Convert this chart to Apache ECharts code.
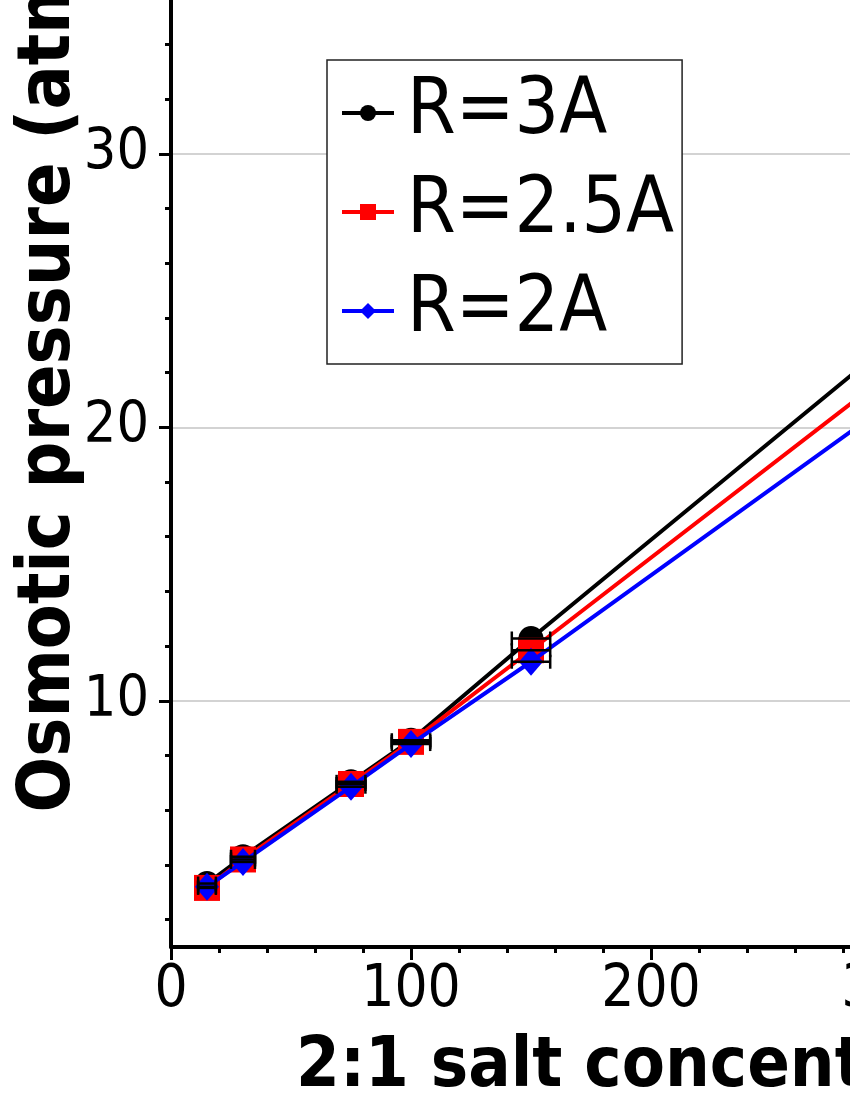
<!DOCTYPE html>
<html>
<head>
<meta charset="utf-8">
<script src="https://cdn.jsdelivr.net/npm/echarts@6/dist/echarts.min.js"></script>
<style>
  html, body { margin: 0; padding: 0; background: #fff; overflow: hidden; width: 850px; height: 1100px; }
  #main { position: absolute; left: 0; top: -300px; width: 1500px; height: 1460px; }
</style>
</head>
<body>
<div id="main"></div>
<script>
// salt concentration (mM)
var conc = [15, 30, 75, 100, 150, 300];
// osmotic pressure (atm) for each ion radius
var pR3  = [3.32, 4.30, 7.04, 8.56, 12.28, 23.1];
var pR25 = [3.16, 4.20, 6.96, 8.50, 11.85, 22.0];
var pR2  = [3.20, 4.11, 6.86, 8.42, 11.43, 20.9];
// horizontal error on concentration
var xErr = [3.7, 5, 6, 8, 8, 10];

var names = ['R=3A', 'R=2.5A', 'R=2A'];
var yMajor = [10, 20, 30, 40];
var yMinor = [2, 4, 6, 8, 12, 14, 16, 18, 22, 24, 26, 28, 32, 34, 36, 38, 42];

var numFont = "'DejaVu Sans Condensed', 'DejaVu Sans', sans-serif";

function pairs(ys) {
  return conc.map(function (c, i) { return [c, ys[i]]; });
}
function errs(ys) {
  return conc.map(function (c, i) { return [c, ys[i], xErr[i]]; });
}

function errorBar(params, api) {
  var x = api.value(0), y = api.value(1), e = api.value(2);
  var a = api.coord([x - e, y]);
  var b = api.coord([x + e, y]);
  var h = 7;
  var st = { stroke: '#000', lineWidth: 2.5 };
  return {
    type: 'group',
    children: [
      { type: 'line', shape: { x1: a[0], y1: a[1], x2: b[0], y2: b[1] }, style: st },
      { type: 'line', shape: { x1: a[0], y1: a[1] - h, x2: a[0], y2: a[1] + h }, style: st },
      { type: 'line', shape: { x1: b[0], y1: b[1] - h, x2: b[0], y2: b[1] + h }, style: st }
    ]
  };
}

// value 1 sits at page y 947, 27.35 px per unit; grid top is value 42.9
var chart = echarts.init(document.getElementById('main'));
chart.setOption({
  animation: false,
  grid: { left: 171, right: 129, top: 101, bottom: 213, outerBoundsMode: 'none' },
  legend: {
    data: names,
    orient: 'vertical',
    left: 327, top: 360,
    backgroundColor: '#fff',
    borderColor: '#222', borderWidth: 1.5, borderRadius: 0,
    padding: [13, 8, 13, 13],
    itemWidth: 52, itemHeight: 20, itemGap: 19,
    lineStyle: { width: 4 },
    textStyle: { fontFamily: numFont, fontSize: 78, lineHeight: 80, color: '#000', padding: [0, 0, 0, 8] }
  },
  xAxis: {
    type: 'value', min: 0, max: 500, interval: 100,
    name: '2:1 salt concentration (mM)',
    nameLocation: 'middle', nameGap: 86, nameMoveOverlap: false,
    nameTextStyle: { fontFamily: numFont, fontWeight: 'bold', fontSize: 70, color: '#000', padding: [0, 0, 0, 40] },
    axisLine: { lineStyle: { color: '#000', width: 4 } },
    axisTick: { length: 13, lineStyle: { color: '#000', width: 3 } },
    minorTick: { show: true, splitNumber: 5, length: 6, lineStyle: { color: '#000', width: 3 } },
    axisLabel: { fontFamily: numFont, fontSize: 58, color: '#000', margin: 15 },
    splitLine: { show: false }
  },
  yAxis: [{
    type: 'value', min: 1, max: 42.9, position: 'left',
    name: 'Osmotic pressure (atm)',
    nameLocation: 'middle', nameGap: 84, nameMoveOverlap: false,
    nameTextStyle: { fontFamily: numFont, fontWeight: 'bold', fontSize: 73, color: '#000' },
    axisLine: { show: true, lineStyle: { color: '#000', width: 4 } },
    axisTick: { show: true, customValues: yMajor, length: 12, lineStyle: { color: '#000', width: 3 } },
    axisLabel: { customValues: yMajor, fontFamily: numFont, fontSize: 57, color: '#000', margin: 22 },
    splitLine: { show: true, lineStyle: { color: '#c4c4c4', width: 1.5 } }
  }, {
    type: 'value', min: 1, max: 42.9, position: 'right', offset: -1200,
    axisLine: { show: false },
    axisTick: { show: true, inside: true, customValues: yMinor, length: 6, lineStyle: { color: '#000', width: 3 } },
    axisLabel: { show: false },
    splitLine: { show: false }
  }],
  series: [
    { name: names[0], type: 'line', data: pairs(pR3), symbol: 'circle', symbolSize: 25,
      lineStyle: { color: '#000', width: 4 }, itemStyle: { color: '#000' }, z: 2 },
    { name: names[1], type: 'line', data: pairs(pR25), symbol: 'rect', symbolSize: 26,
      lineStyle: { color: '#ff0000', width: 4 }, itemStyle: { color: '#ff0000' }, z: 3 },
    { name: names[2], type: 'line', data: pairs(pR2), symbol: 'diamond', symbolSize: [24, 28],
      lineStyle: { color: '#0000ff', width: 4 }, itemStyle: { color: '#0000ff' }, z: 4 },
    { type: 'custom', renderItem: errorBar, data: errs(pR3), z: 10 },
    { type: 'custom', renderItem: errorBar, data: errs(pR25), z: 10 },
    { type: 'custom', renderItem: errorBar, data: errs(pR2), z: 10 }
  ]
});
</script>
</body>
</html>
